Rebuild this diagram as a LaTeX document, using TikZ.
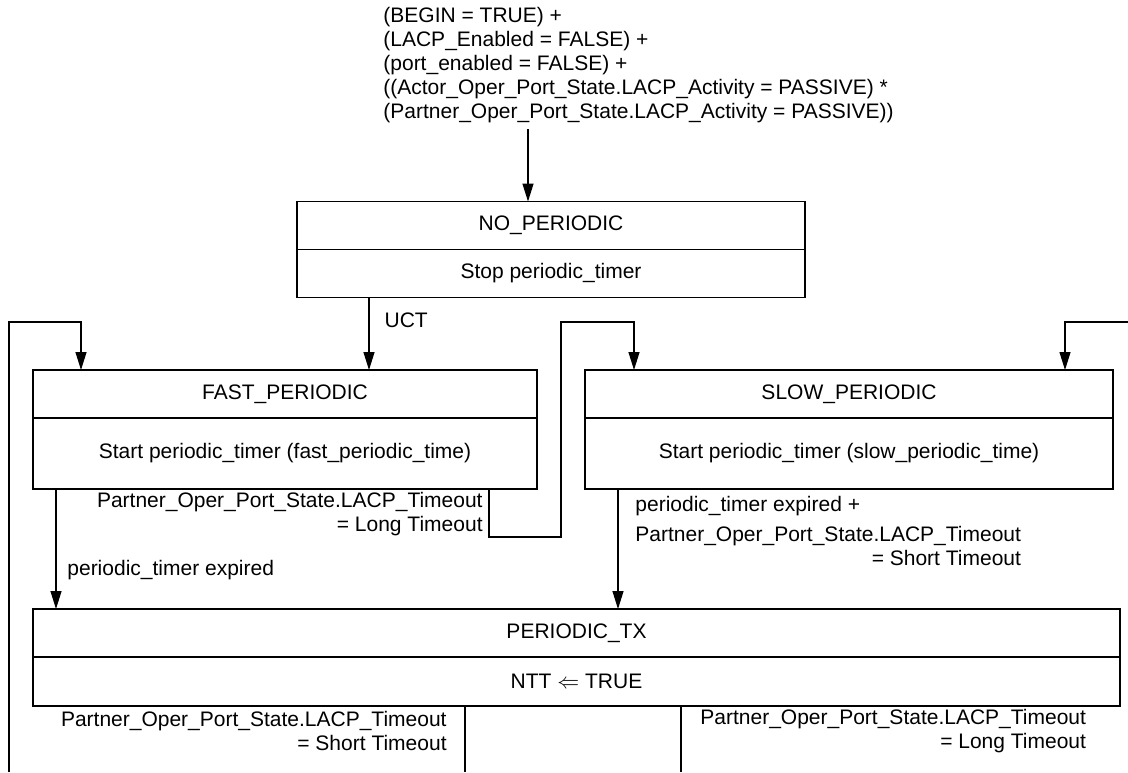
\documentclass[tikz,border=0pt]{standalone}
\usepackage{fontspec}
\setmainfont{Liberation Sans}
\usetikzlibrary{arrows.meta,positioning}
\tikzset{
  estado/.style={
    draw,
    line width=.6pt,
    outer sep=0pt,
    inner sep=0pt,
    minimum height=24pt,
    font=\fontsize{10.5}{12}\selectfont
  },
  etiqueta/.style={
    inner sep=0pt,
    font=\fontsize{10.5}{12}\selectfont
  },
  linea/.style={
    line width=.6pt
  },
  arrow/.style={
    -{Triangle[length=9pt,width=5.5pt]},
    line width=.6pt
  }
}

\begin{document}
\begin{tikzpicture}[x=.5pt,y=-.5pt]
\useasboundingbox (0,0) rectangle (1128,772);
% condicion inicial
\node[etiqueta,anchor=west,align=left] (cond) at (383,65.5) {(BEGIN = TRUE) +\\(LACP\_Enabled = FALSE) +\\(port\_enabled = FALSE) +\\((Actor\_Oper\_Port\_State.LACP\_Activity = PASSIVE) *\\ (Partner\_Oper\_Port\_State.LACP\_Activity = PASSIVE))};
% estados
\node[estado,minimum width=254pt] (nop) at (551,225.5) {NO\_PERIODIC};
\node[estado,minimum width=254pt,below=0pt of nop] (nop-act) {Stop periodic\_timer};
\node[estado,minimum width=252pt] (fast) at (285,394) {FAST\_PERIODIC};
\node[estado,minimum width=252pt,minimum height=35.5pt,below=0pt of fast] (fast-act) {Start periodic\_timer (fast\_periodic\_time)};
\node[estado,minimum width=264pt] (slow) at (849,394) {SLOW\_PERIODIC};
\node[estado,minimum width=264pt,minimum height=35.5pt,below=0pt of slow] (slow-act) {Start periodic\_timer (slow\_periodic\_time)};
\node[estado,minimum width=543.5pt] (tx) at (576.5,633) {PERIODIC\_TX};
\node[estado,minimum width=543.5pt,minimum height=24.5pt,below=0pt of tx] (tx-act) {NTT $\Leftarrow$ TRUE};
% puntos de paso
\coordinate (c0) at (528,129);
\coordinate (uct) at (369,0);
\coordinate (lin) at (9,772);
\coordinate (lk) at (81,322);
\coordinate (rin) at (1128,322);
\coordinate (rk) at (1065,322);
\coordinate (f1) at (489,537);
\coordinate (f2) at (561,322);
\coordinate (f3) at (634,322);
\coordinate (f4) at (56,0);
\coordinate (s1) at (618,0);
\coordinate (t1) at (465,772);
\coordinate (t2) at (681,772);
% transiciones
\draw[arrow] (c0) -- (c0 |- nop.north);
\draw[arrow] (nop-act.south -| uct) -- (fast.north -| uct) node[etiqueta,pos=.32,anchor=west,xshift=7.5pt] {UCT};
\draw[arrow] (lin) |- (lk) -- (lk |- fast.north);
\draw[arrow] (rin) -- (rk) -- (rk |- slow.north);
\draw[arrow] (fast-act.south -| f1) -- (f1) -| (f2) -- (f3) -- (f3 |- slow.north);
\node[etiqueta,anchor=east,align=right] (lbl-long) at (483,514.5) {Partner\_Oper\_Port\_State.LACP\_Timeout\\= Long Timeout};
\draw[arrow] (fast-act.south -| f4) -- (tx.north -| f4);
\node[etiqueta,anchor=west] (lbl-exp) at (67,570) {periodic\_timer expired};
\draw[arrow] (slow-act.south -| s1) -- (tx.north -| s1);
\node[etiqueta,anchor=west] (lbl-short) at (635,534) {\begin{tabular}{@{}l@{}}periodic\_timer expired +\\[3pt]Partner\_Oper\_Port\_State.LACP\_Timeout\\\hfill= Short Timeout\end{tabular}};
\draw[linea] (tx-act.south -| t1) -- (t1);
\draw[linea] (tx-act.south -| t2) -- (t2);
\node[etiqueta,anchor=east,align=right] (lbl-tx-short) at (447,731) {Partner\_Oper\_Port\_State.LACP\_Timeout\\= Short Timeout};
\node[etiqueta,anchor=west,align=right] (lbl-tx-long) at (700,731) {Partner\_Oper\_Port\_State.LACP\_Timeout\\= Long Timeout};
\end{tikzpicture}
\end{document}
